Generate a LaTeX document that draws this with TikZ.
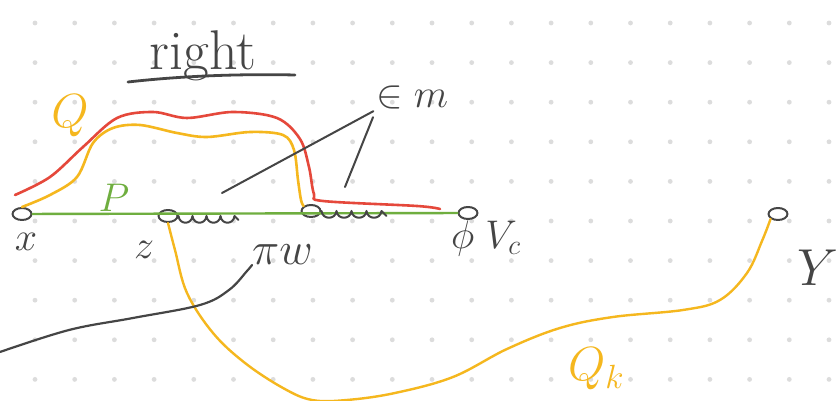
\documentclass[tikz,border=0pt]{standalone}
\usepackage{fix-cm}
\usepackage{amsmath}
\usepackage{xcolor}
\usetikzlibrary{shapes.geometric}
\definecolor{Paper}{HTML}{FFFFFF}
\definecolor{DotGrey}{HTML}{DCDCDC}
\definecolor{Ink}{HTML}{454545}
\definecolor{PathRed}{HTML}{E5483B}
\definecolor{PathGold}{HTML}{F5B71E}
\definecolor{PathGreen}{HTML}{6FAE3F}

\begin{document}
\begin{tikzpicture}[x=1pt,y=1pt,line cap=round,line join=round,
  every node/.style={text=Ink},
  vert/.style={draw=Ink,line width=2pt,ellipse,minimum width=19pt,minimum height=12pt,inner sep=0pt},
  lab/.style={font=\fontsize{40}{40}\selectfont,inner sep=0pt}]
\useasboundingbox (0,0) rectangle (836,401);
\fill[Paper] (0,0) rectangle (836,401);
\foreach \i in {0,...,20}
  \foreach \j in {0,...,9}
    \fill[DotGrey] (35+39.7*\i,378-39.6*\j) circle (2.4pt);
% the five points on the line and off it
\node[vert] (xv) at (22,187) {};
\node[vert] (zv) at (168,185) {};
\node[vert] (wv) at (311,190) {};
\node[vert] (cv) at (468,188) {};
\node[vert] (yv) at (778,187) {};
\draw[PathGreen,line width=2.4pt] (xv) -- (cv);
\draw[Ink,line width=2pt] (zv.east) foreach \k in {1,...,4} { .. controls +(1,-9) and +(-1,-9) .. ++(14,0) } -- ++(4,-4);
\draw[Ink,line width=2pt] (wv.east) foreach \k in {1,...,4} { .. controls +(1,-9) and +(-1,-9) .. ++(15,0) } -- ++(5,-5);
% labels
\node[lab,anchor=base] (xl) at (26,150) {$x$};
\node[lab,anchor=base] (zl) at (144,142) {$z$};
\node[lab,font=\fontsize{46}{46}\selectfont,anchor=base west] (pw) at (252,136) {$\pi w$};
\node[lab,anchor=base west] (vl) at (451,152) {$\phi\;V_c$};
\node[lab,font=\fontsize{52}{52}\selectfont] (yl) at (818,133) {$Y$};
\node[lab,font=\fontsize{56}{56}\selectfont,anchor=base] (rt) at (203,331) {right};
\draw[Ink,line width=2.8pt] (128,319) .. controls (190,326) and (250,327) .. (295,326);
\node[lab,text=PathGold,font=\fontsize{48}{48}\selectfont] (ql) at (70,285) {$Q$};
\node[lab,text=PathGreen] (pl) at (114,203) {$P$};
\node[lab,anchor=base west] (em) at (376,293) {$\in m$};
\node[lab,text=PathGold,font=\fontsize{48}{48}\selectfont,anchor=base west] (qk) at (568,20) {$Q_k$};
% the two paths above the line
\coordinate (rs) at (15,206);
\coordinate (re) at (440,192);
\draw[PathRed,line width=2.6pt] plot[smooth,tension=0.55] coordinates {(rs) (50,224) (83,254) (117,283) (153,289) (187,283) (233,289) (277,283) (300,262) (309,234) (314,207) (323,200) (417,195) (re)};
\draw[PathGold,line width=2.6pt] plot[smooth,tension=0.55] coordinates {(xv.north) (50,206) (77,224) (93,258) (113,273) (140,276) (177,268) (207,264) (250,269) (283,266) (294,251) (298,221) (301,201) (wv.north west)};
% the path below
\draw[PathGold,line width=2.4pt] plot[smooth,tension=0.6] coordinates {(zv.south) (175,151) (187,108) (213,68) (245,38) (283,13) (312,1) (347,1) (395,8) (453,24) (507,52) (560,73) (613,84) (683,91) (720,101) (747,128) (762,160) (yv.south west)};
% pointers
\coordinate (e1) at (222,208);
\coordinate (e2) at (345,214);
\draw[Ink,line width=2pt,shorten <=3pt] (em.south west) -- (e1);
\draw[Ink,line width=2pt,shorten <=8pt] (em.south west) -- (e2);
\coordinate (gs) at (0,49);
\draw[Ink,line width=2.2pt] plot[smooth,tension=0.6] coordinates {(gs) (69,71) (133,83) (200,96) (229,111) (247,130) (pw.base west)};
\end{tikzpicture}
\end{document}
